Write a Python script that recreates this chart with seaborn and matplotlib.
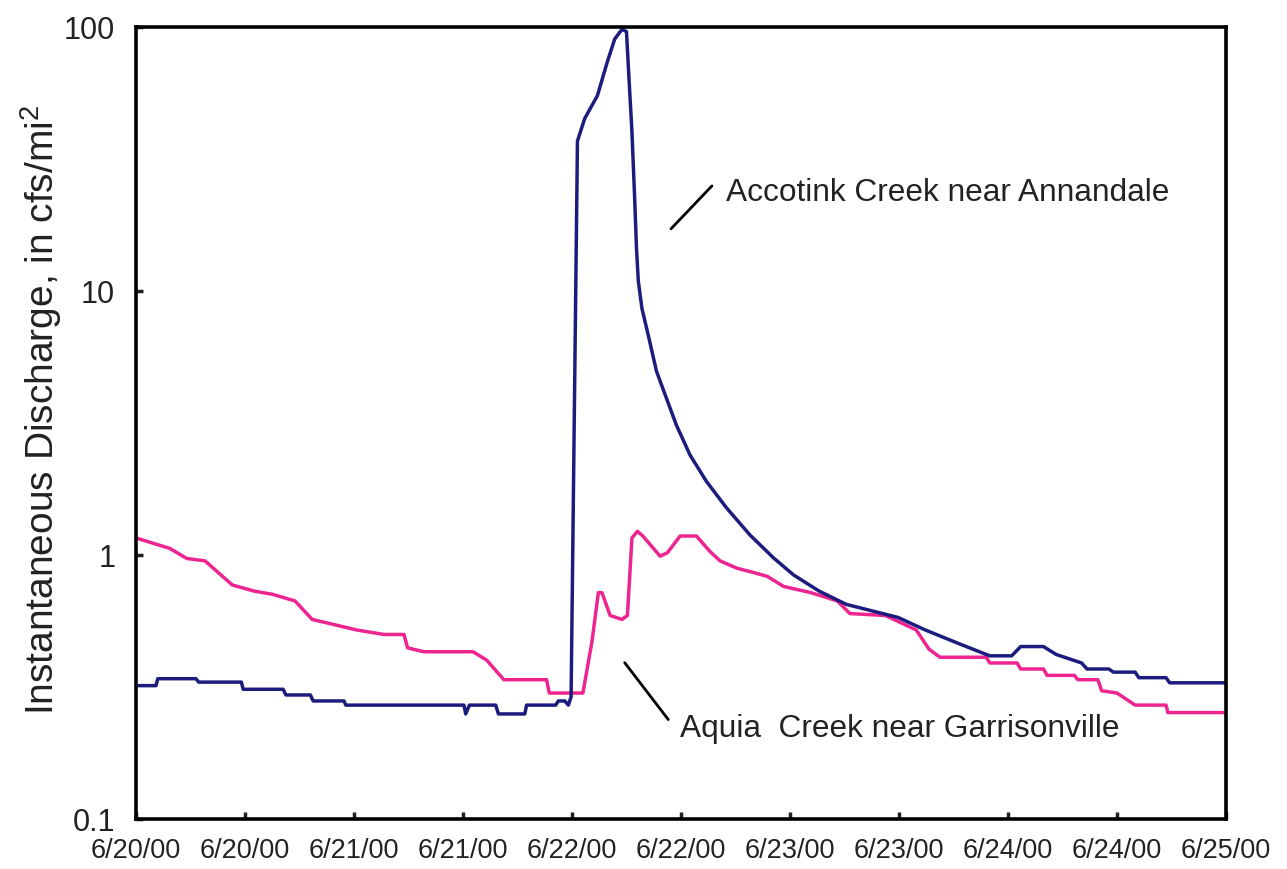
import numpy as np
import pandas as pd
import matplotlib
matplotlib.use("Agg")
import matplotlib.pyplot as plt
import matplotlib.dates as mdates
from matplotlib.ticker import FixedLocator, FixedFormatter, NullLocator, FuncFormatter
import seaborn as sns

# ---- data (hours since 6/20/00 00:00, discharge in cfs/mi^2) ----
accotink_hours = [0.0, 2.2, 2.4, 6.6, 6.9, 11.6, 11.8, 16.2, 16.5, 19.2, 19.5, 22.9, 23.1,
                  36.1, 36.3, 36.7, 39.6, 39.9, 42.8, 43.0, 46.2, 46.5, 47.2, 47.6, 47.9,
                  48.6, 49.4, 50.8, 51.9, 52.7, 53.5, 54.0, 54.2, 54.6, 54.9, 55.1, 55.3,
                  55.7, 56.4, 57.3, 58.4, 59.5, 61.0, 62.8, 65.0, 67.6, 70.2, 72.4, 75.2,
                  78.2, 83.9, 86.9, 90.7, 94.0, 96.4, 97.4, 99.9, 101.3, 104.1, 104.7,
                  107.1, 107.6, 110.0, 110.4, 113.4, 113.8, 120.0]
accotink_q = [0.32, 0.32, 0.34, 0.34, 0.33, 0.33, 0.31, 0.31, 0.295, 0.295, 0.28, 0.28, 0.27,
              0.27, 0.25, 0.27, 0.27, 0.25, 0.25, 0.27, 0.27, 0.28, 0.28, 0.27, 0.29,
              37.0, 45.0, 55.0, 74.0, 90.0, 98.0, 96.0, 71.0, 40.0, 22.4, 14.5, 10.9,
              8.59, 6.79, 4.97, 3.92, 3.10, 2.39, 1.90, 1.51, 1.19, 0.974, 0.84, 0.73,
              0.65, 0.58, 0.52, 0.46, 0.415, 0.415, 0.45, 0.45, 0.42, 0.39, 0.37,
              0.37, 0.36, 0.36, 0.343, 0.343, 0.328, 0.328]

aquia_hours = [0.0, 3.7, 5.6, 7.6, 10.6, 13.0, 15.0, 17.5, 19.4, 22.3, 24.3, 27.3, 29.5,
               29.9, 31.7, 37.1, 38.6, 40.5, 45.2, 45.5, 49.2, 50.2, 50.9, 51.3, 52.2,
               53.5, 54.1, 54.6, 55.2, 55.8, 57.7, 58.5, 59.9, 61.7, 63.2, 64.3,
               66.2, 67.9, 69.5, 71.3, 74.3, 77.2, 78.6, 82.5, 84.4, 85.9, 87.3, 88.5,
               93.6, 94.0, 97.0, 97.4, 99.9, 100.3, 103.3, 103.7, 105.9, 106.3, 108.0,
               110.0, 113.4, 113.6, 120.0]
aquia_q = [1.16, 1.06, 0.97, 0.95, 0.77, 0.73, 0.71, 0.67, 0.57, 0.54, 0.52, 0.50, 0.50,
           0.445, 0.43, 0.43, 0.40, 0.337, 0.337, 0.30, 0.30, 0.47, 0.72, 0.72, 0.59,
           0.57, 0.59, 1.16, 1.23, 1.18, 0.99, 1.02, 1.18, 1.18, 1.03, 0.95,
           0.89, 0.86, 0.83, 0.76, 0.72, 0.67, 0.60, 0.59, 0.55, 0.52, 0.44, 0.41,
           0.41, 0.39, 0.39, 0.37, 0.37, 0.35, 0.35, 0.337, 0.337, 0.306, 0.30,
           0.27, 0.27, 0.253, 0.253]

y_ticks = [0.1, 1, 10, 100]
y_tick_labels = ["0.1", "1", "10", "100"]
y_label = "Instantaneous Discharge, in cfs/mi$^2$"
label_accotink = "Accotink Creek near Annandale"
label_aquia = "Aquia  Creek near Garrisonville"

start = pd.Timestamp("2000-06-20 00:00")
end = pd.Timestamp("2000-06-25 00:00")

df = pd.concat([
    pd.DataFrame({"time": start + pd.to_timedelta(accotink_hours, unit="h"),
                  "q": accotink_q, "site": "Accotink"}),
    pd.DataFrame({"time": start + pd.to_timedelta(aquia_hours, unit="h"),
                  "q": aquia_q, "site": "Aquia"}),
], ignore_index=True)

sns.set_theme(style="white")
plt.rcParams["font.family"] = ["Liberation Sans", "DejaVu Sans"]
plt.rcParams["mathtext.default"] = "regular"

fig = plt.figure(figsize=(12.87, 8.7), dpi=100)
ax = fig.add_axes([136 / 1287, 1 - 820 / 870, 1090 / 1287, 792 / 870])

sns.lineplot(data=df, x="time", y="q", hue="site", units="site", estimator=None, sort=False,
             palette={"Accotink": "#1c1c7e", "Aquia": "#ee2590"},
             hue_order=["Aquia", "Accotink"],
             linewidth=2.5, legend=False, ax=ax)

ax.set_yscale("log")
ax.set_ylim(0.1, 100)
ax.set_xlim(start, end)
ax.yaxis.set_major_locator(FixedLocator(y_ticks))
ax.yaxis.set_major_formatter(FixedFormatter(y_tick_labels))
ax.yaxis.set_minor_locator(NullLocator())

ax.xaxis.set_major_locator(mdates.HourLocator(byhour=[0, 12]))
ax.xaxis.set_minor_locator(NullLocator())
ax.xaxis.set_major_formatter(FuncFormatter(
    lambda v, p: (lambda d: f"{d.month}/{d.day:02d}/{d:%y}")(mdates.num2date(v))))

ax.set_xlabel("")
ax.set_ylabel(y_label, fontsize=28, color="#222222")
ax.yaxis.set_label_coords(-0.066, 0.518)

ax.tick_params(axis="x", direction="in", length=5, width=2.5, labelsize=19.5,
               pad=13, colors="#222222", top=False, bottom=True)
ax.tick_params(axis="y", direction="in", length=5, width=2.5, labelsize=22,
               pad=15, colors="#222222", left=True, right=False)

for s in ax.spines.values():
    s.set_visible(True)
    s.set_color("black")
    s.set_linewidth(2.6)

ax.grid(False)

# annotations with leader lines
ax.annotate("", xy=(start + pd.Timedelta(hours=58.9), 17.2),
            xytext=(start + pd.Timedelta(hours=63.4), 25.0),
            arrowprops=dict(arrowstyle="-", color="black", lw=2.0, shrinkA=0, shrinkB=0))
ax.text(start + pd.Timedelta(hours=65.0), 23.8, label_accotink, fontsize=22.8,
        color="#222222", ha="left", va="center")

ax.annotate("", xy=(start + pd.Timedelta(hours=53.8), 0.391),
            xytext=(start + pd.Timedelta(hours=58.6), 0.238),
            arrowprops=dict(arrowstyle="-", color="black", lw=2.0, shrinkA=0, shrinkB=0))
ax.text(start + pd.Timedelta(hours=59.9), 0.222, label_aquia, fontsize=22.8,
        color="#222222", ha="left", va="center")

fig.savefig("out.png", dpi=100, facecolor="white")
